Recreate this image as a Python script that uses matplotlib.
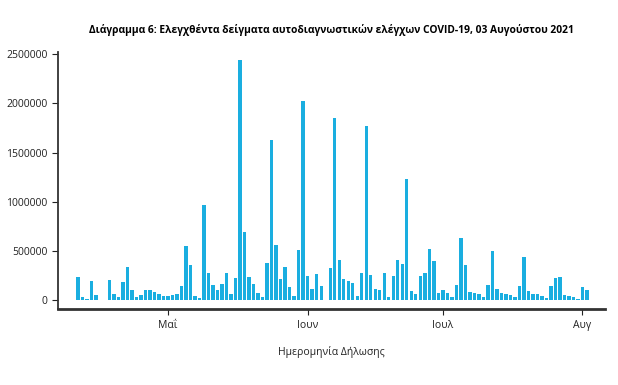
import numpy as np
import pandas as pd
import matplotlib
matplotlib.use("Agg")
import matplotlib.pyplot as plt

plt.rcParams['font.family'] = ['Open Sans', 'DejaVu Sans']

# daily samples checked, 11 Apr 2021 - 2 Aug 2021 (thousands)
start_date = "2021-04-11"
samples_k = [
    237, 34, 12, 196, 50, 5, 0, 203, 68, 34,
    186, 339, 101, 34, 51, 108, 103, 80, 58, 41,
    41, 51, 61, 146, 552, 356, 44, 20, 972, 281,
    152, 108, 169, 281, 61, 224, 2446, 698, 234, 166,
    78, 30, 379, 1629, 556, 217, 335, 132, 44, 515,
    2026, 244, 118, 271, 142, 0, 329, 1853, 406, 213,
    197, 173, 41, 274, 1775, 257, 112, 102, 281, 30,
    251, 406, 369, 1230, 95, 61, 241, 274, 518, 403,
    78, 105, 78, 30, 159, 635, 356, 88, 78, 58,
    30, 152, 501, 112, 71, 68, 54, 30, 142, 437,
    98, 61, 58, 44, 24, 142, 224, 237, 54, 47,
    34, 17, 132, 102,
]
month_ticks = ["2021-05-01", "2021-06-01", "2021-07-01", "2021-08-01"]
month_labels = ["Μαΐ", "Ιουν", "Ιουλ", "Αυγ"]
y_ticks = [0, 500000, 1000000, 1500000, 2000000, 2500000]

dates = pd.date_range(start_date, periods=len(samples_k), freq="D")
values = np.array(samples_k) * 1000

fig = plt.figure(figsize=(6.18, 3.85), dpi=100)
ax = fig.add_axes([0.094, 0.197, 0.885, 0.668])

ax.bar(dates, values, width=0.75, color="#1aaee0")

ax.set_xlim(dates[0] - pd.Timedelta(days=4.4), dates[-1] + pd.Timedelta(days=4))
ax.set_ylim(-91000, 2523000)

ax.set_xticks(pd.to_datetime(month_ticks))
ax.set_xticklabels(month_labels)
ax.set_yticks(y_ticks)
ax.set_yticklabels([str(v) for v in y_ticks])

ax.spines["top"].set_visible(False)
ax.spines["right"].set_visible(False)
ax.spines["left"].set_color("#333333")
ax.spines["left"].set_linewidth(1.3)
ax.spines["bottom"].set_color("#333333")
ax.spines["bottom"].set_linewidth(2)
ax.tick_params(axis="both", labelsize=7.5, colors="#222222", length=4, width=0.8)

ax.set_xlabel("Ημερομηνία Δήλωσης", fontsize=7.5, color="#222222", labelpad=11)
fig.suptitle("Διάγραμμα 6: Ελεγχθέντα δείγματα αυτοδιαγνωστικών ελέγχων COVID-19, 03 Αυγούστου 2021",
             x=0.536, y=0.922, va="center", fontsize=7.35, fontweight="bold")

fig.savefig("out.png", dpi=100)
